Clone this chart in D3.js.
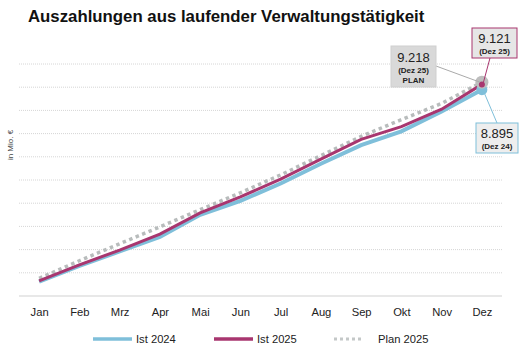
<!DOCTYPE html>
<html>
<head>
<meta charset="utf-8">
<script src="https://cdn.jsdelivr.net/npm/d3@7"></script>
<style>
  body { margin: 0; background: #fff; font-family: "Liberation Sans", Arial, sans-serif; }
</style>
</head>
<body>
<div id="chart"></div>
<script>
// data (Mio. €, kumuliert)
const months = ['Jan', 'Feb', 'Mrz', 'Apr', 'Mai', 'Jun', 'Jul', 'Aug', 'Sep', 'Okt', 'Nov', 'Dez'];
const ist2024 = [620, 1300, 1920, 2550, 3500, 4100, 4850, 5700, 6500, 7100, 7950, 8895];
const ist2025 = [650, 1340, 1980, 2670, 3580, 4270, 5040, 5900, 6750, 7300, 8050, 9121];
const plan2025 = [760, 1520, 2250, 2980, 3720, 4450, 5220, 6050, 6880, 7600, 8300, 9218];
const gridTicks = [1000, 2000, 3000, 4000, 5000, 6000, 7000, 8000, 9000, 10000];

const colors = { ist2024: '#7fbfda', ist2025: '#a8366f', plan: '#b8bcbc' };

const width = 530, height = 350;
const svg = d3.select('#chart').append('svg')
  .attr('width', width)
  .attr('height', height);

// title
svg.append('text')
  .attr('x', 28).attr('y', 22)
  .attr('font-size', 16.8).attr('font-weight', 'bold').attr('fill', '#111')
  .text('Auszahlungen aus laufender Verwaltungstätigkeit');

// scales
let x = d3.scalePoint().domain(months).range([19, 502]).padding(0.5);
let y = d3.scaleLinear().domain([0, 10000]).range([296, 64]);

// gridlines
svg.append('g').selectAll('line')
  .data(gridTicks)
  .enter().append('line')
  .attr('x1', 19).attr('x2', 502)
  .attr('y1', d => y(d)).attr('y2', d => y(d))
  .attr('stroke', '#d6d6d6').attr('stroke-width', 1)
  .attr('stroke-dasharray', '1,1');

// baseline + month labels
let xAxis = svg.append('g')
  .attr('transform', `translate(0,${y(0)})`)
  .call(d3.axisBottom(x).tickSize(0).tickPadding(12));
xAxis.select('.domain').attr('stroke', '#e0e0e0').attr('stroke-width', 1.5)
  .attr('d', 'M19,0H502');
xAxis.selectAll('text')
  .attr('font-size', 11.2).attr('fill', '#222')
  .attr('font-family', '"Liberation Sans", Arial, sans-serif');

// y label
svg.append('text')
  .attr('transform', 'translate(13,145) rotate(-90)')
  .attr('text-anchor', 'middle')
  .attr('font-size', 8).attr('fill', '#444')
  .text('in Mio. €');

// lines
let line = d3.line()
  .x((d, i) => x(months[i]))
  .y(d => y(d));

svg.append('path').datum(ist2024)
  .attr('d', line).attr('fill', 'none')
  .attr('stroke', colors.ist2024).attr('stroke-width', 4);

svg.append('path').datum(plan2025)
  .attr('d', line).attr('fill', 'none')
  .attr('stroke', colors.plan).attr('stroke-width', 3.5)
  .attr('stroke-dasharray', '3.5,3.5');

svg.append('path').datum(ist2025)
  .attr('d', line).attr('fill', 'none')
  .attr('stroke', colors.ist2025).attr('stroke-width', 3);

// end markers
let last = months.length - 1;
let xEnd = x(months[last]);
svg.append('circle').attr('cx', xEnd).attr('cy', y(ist2024[last])).attr('r', 5.5).attr('fill', colors.ist2024);
svg.append('circle').attr('cx', xEnd).attr('cy', y(plan2025[last])).attr('r', 6.5).attr('fill', '#bdbdbd');
svg.append('circle').attr('cx', xEnd).attr('cy', y(ist2025[last])).attr('r', 3).attr('fill', colors.ist2025);

// annotation boxes
const fmt = v => d3.format(',')(v).replace(/,/g, '.');

function annot(bx, by, bw, bh, stroke, fill, lines, lx1, ly1, lx2, ly2, lineColor) {
  svg.append('line')
    .attr('x1', lx1).attr('y1', ly1).attr('x2', lx2).attr('y2', ly2)
    .attr('stroke', lineColor).attr('stroke-width', 1);
  svg.append('rect')
    .attr('x', bx).attr('y', by).attr('width', bw).attr('height', bh)
    .attr('fill', fill).attr('stroke', stroke).attr('stroke-width', 1);
  let yy = by;
  lines.forEach(l => {
    yy += l.dy;
    svg.append('text')
      .attr('x', bx + bw / 2).attr('y', yy)
      .attr('text-anchor', 'middle')
      .attr('font-size', l.size).attr('font-weight', l.bold ? 'bold' : 'normal')
      .attr('fill', '#222')
      .text(l.text);
  });
}

annot(472, 28, 45, 30, colors.ist2025, '#e6e6e6',
  [{ text: fmt(ist2025[last]), size: 13, dy: 15 }, { text: '(Dez 25)', size: 8, bold: true, dy: 11 }],
  490, 58, xEnd + 1, y(ist2025[last]), colors.ist2025);

annot(391, 46, 45, 41, '#cfcfcf', '#d9d9d9',
  [{ text: fmt(plan2025[last]), size: 13, dy: 16 }, { text: '(Dez 25)', size: 8, bold: true, dy: 11 }, { text: 'PLAN', size: 8, bold: true, dy: 10 }],
  436, 66, xEnd - 2, y(plan2025[last]), '#aaaaaa');

annot(476, 123, 42, 30, colors.ist2024, '#eeeeee',
  [{ text: fmt(ist2024[last]), size: 13, dy: 15 }, { text: '(Dez 24)', size: 8, bold: true, dy: 11 }],
  497, 123, xEnd + 1, y(ist2024[last]), colors.ist2024);

// legend
const legendItems = [
  { label: 'Ist 2024', color: colors.ist2024, x: 93, dash: null, w: 3.5 },
  { label: 'Ist 2025', color: colors.ist2025, x: 214, dash: null, w: 3.5 },
  { label: 'Plan 2025', color: '#c4c8c8', x: 334, dash: '3,3', w: 3 }
];
let legend = svg.append('g').selectAll('g')
  .data(legendItems).enter().append('g')
  .attr('transform', d => `translate(${d.x},339)`);
legend.append('line')
  .attr('x1', 0).attr('x2', d => d.dash ? 30 : 39)
  .attr('y1', 0).attr('y2', 0)
  .attr('stroke', d => d.color).attr('stroke-width', d => d.w)
  .attr('stroke-dasharray', d => d.dash);
legend.append('text')
  .attr('x', d => d.dash ? 44 : 43).attr('y', 4)
  .attr('font-size', 11.2).attr('fill', '#222')
  .text(d => d.label);
</script>
</body>
</html>
